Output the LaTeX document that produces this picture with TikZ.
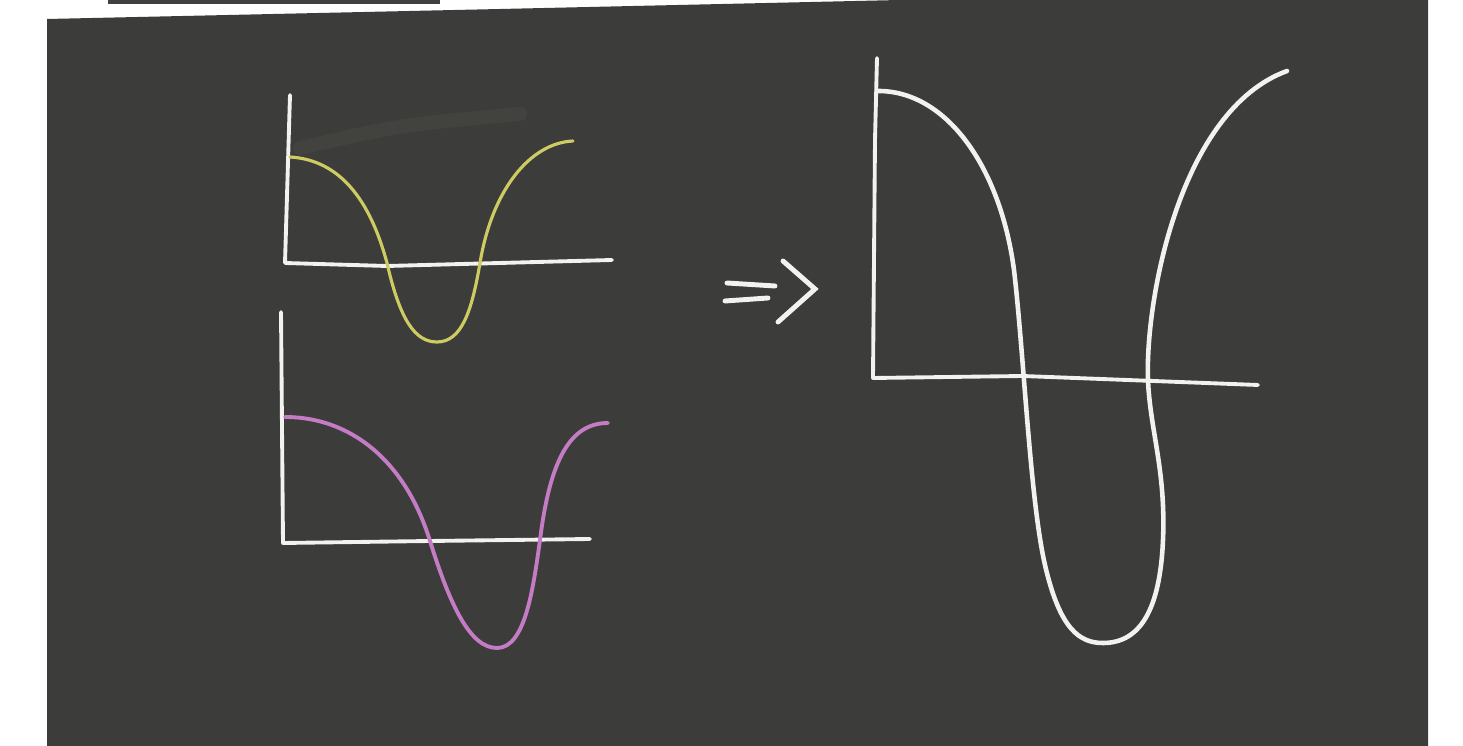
\documentclass[tikz,border=0pt]{standalone}
\usepackage{xcolor}
\definecolor{Wall}{HTML}{FFFFFF}
\definecolor{Board}{HTML}{3C3C3A}
\definecolor{Chalk}{HTML}{F2F2EE}
\definecolor{ChalkYellow}{HTML}{CDCB62}
\definecolor{ChalkPink}{HTML}{C47CC4}
\definecolor{Smudge}{HTML}{8A8A86}

\begin{document}
\begin{tikzpicture}[x=0.01cm,y=-0.01cm,axis/.style={draw=Chalk,line width=1.1pt,line cap=round,line join=round},yellowwave/.style={draw=ChalkYellow,line width=0.9pt,line cap=round},pinkwave/.style={draw=ChalkPink,line width=1.1pt,line cap=round},sumwave/.style={draw=Chalk,line width=1.3pt,line cap=round},implies/.style={draw=Chalk,line width=1.4pt,line cap=round}]
\useasboundingbox (0,0) rectangle (1463,746);
\fill[Wall] (0,0) rectangle (1463,746);
\fill[Board] (47,19) -- (500,9) -- (900,0) -- (1428,0) -- (1428,746) -- (47,746) -- cycle;
\fill[black!75] (108,0) rectangle (440,4);
\draw[Smudge,opacity=0.08,line width=4pt,line cap=round] (300,148) .. controls (400,125) .. (520,114);
% top plot (yellow)
\coordinate (O1) at (285,263);
\draw[axis] (290,95) -- (O1) -- (387,266) -- (612,260);
\draw[yellowwave] (290,157) .. controls (340,160) and (370,200) .. (387,263) .. controls (400,320) and (415,342) .. (437,342) .. controls (462,342) and (472,310) .. (480,263) .. controls (492,190) and (530,143) .. (573,141);
% bottom plot (pink)
\coordinate (O2) at (283,543);
\draw[axis] (281,312) -- (O2) -- (430,541) -- (590,539);
\draw[pinkwave] (285,417) .. controls (350,417) and (405,460) .. (430,541) .. controls (450,605) and (470,648) .. (497,648) .. controls (525,648) and (533,590) .. (540,540) .. controls (550,460) and (570,423) .. (608,423);
% implies sign
\draw[implies] (727,283) -- (775,286);
\draw[implies] (725,301) -- (768,298);
\draw[implies] (783,261) -- (815,289) -- (778,322);
% right plot (sum)
\coordinate (O3) at (873,378);
\draw[axis] (877,58) -- (875,140) -- (O3) -- (1023,376) -- (1258,385);
\draw[sumwave] (877,91) .. controls (945,90) and (1000,165) .. (1014,270) .. controls (1024,355) and (1030,500) .. (1045,565) .. controls (1060,630) and (1080,643) .. (1103,643) .. controls (1140,643) and (1160,610) .. (1163,540) .. controls (1166,470) and (1150,430) .. (1148,380) .. controls (1145,300) and (1180,110) .. (1287,71);
\end{tikzpicture}
\end{document}
